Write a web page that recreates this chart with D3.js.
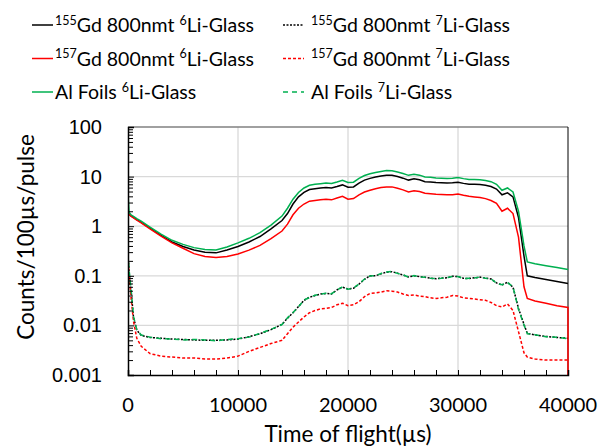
<!DOCTYPE html>
<html>
<head>
<meta charset="utf-8">
<script src="https://cdn.jsdelivr.net/npm/d3@7"></script>
<style>
  body { margin: 0; background: #fff; }
  svg { font-family: Lato, "Open Sans", sans-serif; }
</style>
</head>
<body>
<div class="chart"></div>
<script>
// time of flight (µs), shared by every series; last 40000 is the red drop to the floor
const tof = [0, 100, 300, 500, 800, 1200, 2000, 3000, 4000, 5000, 6000, 7000, 8000, 9000, 10000, 11000, 12000, 13000, 14000,
  14500, 15000, 15500, 16000, 16500, 17000, 17500, 18000, 18500, 19000, 19500, 20000, 20500, 21000, 21500, 22000, 22500,
  23000, 23500, 24000, 24500, 25000, 25500, 26000, 26500, 27000, 27500, 28000, 28500, 29000, 29500, 30000, 30500, 31000,
  31500, 32000, 32500, 33000, 33500, 34000, 34500, 35000, 35500, 36000, 36300, 37000, 38000, 39000, 40000, 40000];

// counts/100µs/pulse
const gd155Li6 = [2.0, 1.75, 1.6, 1.5, 1.35, 1.2, 0.91, 0.65, 0.48, 0.39, 0.33, 0.30, 0.29, 0.33, 0.39, 0.48, 0.62, 0.88, 1.3,
  1.8, 2.8, 3.9, 4.8, 5.5, 5.7, 5.9, 6.0, 5.9, 6.3, 6.8, 6.1, 6.2, 7.4, 8.5, 9.2, 9.8,
  10.3, 10.7, 10.6, 10.0, 9.3, 8.5, 9.0, 8.6, 7.9, 7.8, 7.6, 7.5, 7.4, 7.5, 7.7, 7.3, 7.0,
  7.0, 6.9, 6.7, 6.3, 5.6, 4.3, 4.7, 3.9, 1.5, 0.25, 0.10, 0.092, 0.084, 0.077, 0.070, null];

const gd155Li7 = [0.26, 0.12, 0.045, 0.0145, 0.008, 0.0063, 0.0057, 0.0055, 0.0053, 0.0052, 0.0051, 0.005, 0.005, 0.0051, 0.0053, 0.0059, 0.0068, 0.0082, 0.0105,
  0.014, 0.018, 0.024, 0.032, 0.037, 0.040, 0.043, 0.044, 0.043, 0.052, 0.059, 0.054, 0.056, 0.068, 0.085, 0.10, 0.10,
  0.11, 0.118, 0.121, 0.113, 0.104, 0.095, 0.10, 0.096, 0.093, 0.09, 0.087, 0.09, 0.091, 0.098, 0.096, 0.089, 0.088,
  0.091, 0.094, 0.09, 0.086, 0.072, 0.065, 0.074, 0.059, 0.022, 0.0105, 0.0069, 0.0064, 0.006, 0.0057, 0.0055, null];

const gd157Li6 = [2.0, 1.72, 1.57, 1.47, 1.32, 1.17, 0.88, 0.63, 0.46, 0.36, 0.28, 0.245, 0.235, 0.245, 0.275, 0.33, 0.41, 0.56, 0.8,
  1.1, 1.7, 2.3, 2.8, 3.2, 3.3, 3.4, 3.5, 3.4, 3.7, 4.0, 3.5, 3.6, 4.3, 4.9, 5.3, 5.7,
  6.0, 6.2, 6.2, 5.8, 5.4, 4.9, 5.2, 5.0, 4.6, 4.5, 4.4, 4.35, 4.3, 4.3, 4.45, 4.2, 4.0,
  3.9, 3.8, 3.6, 3.3, 2.9, 2.0, 2.3, 1.8, 0.6, 0.06, 0.035, 0.031, 0.028, 0.025, 0.023, 0.001];

const gd157Li7 = [0.24, 0.1, 0.032, 0.012, 0.0055, 0.0038, 0.0027, 0.0024, 0.0023, 0.0022, 0.0022, 0.0021, 0.0021, 0.0022, 0.0024, 0.003, 0.0036, 0.0043, 0.005,
  0.0068, 0.0092, 0.0117, 0.0148, 0.018, 0.02, 0.0215, 0.022, 0.023, 0.026, 0.028, 0.025, 0.026, 0.03, 0.038, 0.044, 0.045,
  0.047, 0.05, 0.049, 0.047, 0.043, 0.04, 0.041, 0.039, 0.038, 0.036, 0.035, 0.036, 0.037, 0.04, 0.039, 0.036, 0.035,
  0.034, 0.033, 0.032, 0.029, 0.025, 0.0235, 0.027, 0.02, 0.0075, 0.0028, 0.0023, 0.0021, 0.002, 0.002, 0.002, null];

const alLi6 = [4.5, 1.9, 1.68, 1.57, 1.42, 1.26, 0.96, 0.69, 0.52, 0.43, 0.37, 0.34, 0.33, 0.38, 0.46, 0.57, 0.74, 1.05, 1.6,
  2.3, 3.5, 4.8, 5.9, 6.7, 7.0, 7.2, 7.4, 7.3, 7.8, 8.4, 7.6, 7.7, 9.2, 10.5, 11.4, 12.1,
  12.7, 13.2, 13.1, 12.4, 11.5, 10.6, 11.2, 10.7, 9.8, 9.7, 9.4, 9.3, 9.2, 9.3, 9.6, 9.1, 8.7,
  8.7, 8.6, 8.3, 7.9, 7.0, 5.3, 5.9, 4.9, 2.0, 0.4, 0.19, 0.175, 0.16, 0.147, 0.134, null];

const alLi7 = [0.28, 0.13, 0.047, 0.015, 0.0082, 0.0064, 0.0058, 0.0054, 0.0053, 0.0051, 0.0052, 0.0051, 0.0049, 0.0052, 0.0054, 0.0058, 0.0069, 0.0083, 0.0104,
  0.0142, 0.0182, 0.0238, 0.0325, 0.0365, 0.0405, 0.0425, 0.0445, 0.0435, 0.0515, 0.060, 0.0535, 0.0565, 0.0685, 0.086, 0.099, 0.101,
  0.111, 0.119, 0.122, 0.112, 0.105, 0.094, 0.101, 0.095, 0.094, 0.089, 0.088, 0.089, 0.092, 0.097, 0.097, 0.088, 0.089,
  0.090, 0.095, 0.089, 0.087, 0.071, 0.066, 0.073, 0.060, 0.021, 0.0102, 0.0068, 0.0065, 0.0059, 0.0058, 0.0054, null];

const yTicks = [0.001, 0.01, 0.1, 1, 10, 100];
const xTicks = [0, 10000, 20000, 30000, 40000];

const series = [
  { values: gd155Li6, iso: "155", el: "Gd 800nmt ", li: "6", color: "#000000", dash: null },
  { values: gd155Li7, iso: "155", el: "Gd 800nmt ", li: "7", color: "#000000", dash: "2,1.5" },
  { values: gd157Li6, iso: "157", el: "Gd 800nmt ", li: "6", color: "#ff0000", dash: null },
  { values: gd157Li7, iso: "157", el: "Gd 800nmt ", li: "7", color: "#ff0000", dash: "3,2" },
  { values: alLi6, iso: null, el: "Al Foils ", li: "6", color: "#00b050", dash: null },
  { values: alLi7, iso: null, el: "Al Foils ", li: "7", color: "#00b050", dash: "5,4" }
];

const W = 598, H = 447;
const margin = { top: 127, right: 30, bottom: 72, left: 128 };
const width = W - margin.left - margin.right,
  height = H - margin.top - margin.bottom;

const svg = d3.select(".chart").append("svg")
  .attr("width", W)
  .attr("height", H);

const x = d3.scaleLinear().domain([0, 40000]).range([0, width]);
const y = d3.scaleLog().domain([0.001, 100]).range([height, 0]);

const g = svg.append("g")
  .attr("transform", "translate(" + margin.left + "," + margin.top + ")");

// gridlines
g.append("g").selectAll("line").data(yTicks.slice(1, -1)).enter().append("line")
  .attr("x1", 0).attr("x2", width)
  .attr("y1", d => y(d)).attr("y2", d => y(d))
  .attr("stroke", "#d9d9d9").attr("stroke-width", 1.3);
g.append("g").selectAll("line").data(xTicks.slice(1, -1)).enter().append("line")
  .attr("y1", 0).attr("y2", height)
  .attr("x1", d => x(d)).attr("x2", d => x(d))
  .attr("stroke", "#d9d9d9").attr("stroke-width", 1.3);

// top and right border
g.append("line").attr("x1", 0).attr("x2", width).attr("y1", 0).attr("y2", 0)
  .attr("stroke", "#808080").attr("stroke-width", 1.5);
g.append("line").attr("x1", width).attr("x2", width).attr("y1", 0).attr("y2", height)
  .attr("stroke", "#000").attr("stroke-width", 1);

// series
g.append("clipPath").attr("id", "plot").append("rect")
  .attr("x", 0).attr("y", -1).attr("width", width + 1).attr("height", height + 1);

const line = d3.line()
  .defined(d => d[1] != null)
  .x(d => x(d[0]))
  .y(d => y(d[1]));

g.append("g").attr("clip-path", "url(#plot)")
  .selectAll("path").data(series).enter().append("path")
  .attr("d", s => line(tof.map((t, i) => [t, s.values[i]])))
  .attr("fill", "none")
  .attr("stroke", s => s.color)
  .attr("stroke-width", 1.5)
  .attr("stroke-dasharray", s => s.dash);

// y axis: decades labelled, minor ticks inside
const minorY = [];
yTicks.slice(0, -1).forEach(d => { for (let k = 2; k <= 9; k++) minorY.push(d * k); });

const yAxis = g.append("g")
  .call(d3.axisLeft(y).tickValues(yTicks).tickSize(-6).tickPadding(26)
    .tickFormat(d => d >= 1 ? d3.format("d")(d) : String(d)));
yAxis.select(".domain").attr("stroke", "#000").attr("stroke-width", 1.5);
yAxis.selectAll(".tick line").attr("stroke", "#000");
yAxis.selectAll("text").attr("font-size", 20).attr("fill", "#000");

g.append("g")
  .call(d3.axisLeft(y).tickValues(minorY).tickSize(-5).tickFormat(""))
  .call(a => a.select(".domain").remove())
  .selectAll(".tick line").attr("stroke", "#000");

// x axis
const xAxis = g.append("g")
  .attr("transform", "translate(0," + height + ")")
  .call(d3.axisBottom(x).tickValues(d3.range(0, 40001, 2000)).tickSize(-5).tickFormat(""));
xAxis.select(".domain").attr("stroke", "#000").attr("stroke-width", 1.5);
xAxis.selectAll(".tick line").attr("stroke", "#000");

g.append("g").selectAll("text").data(xTicks).enter().append("text")
  .attr("x", d => x(d))
  .attr("y", height + 37)
  .attr("text-anchor", "middle")
  .attr("font-size", 20)
  .text(d => d);

// axis titles
svg.append("text")
  .attr("x", 348).attr("y", 442)
  .attr("text-anchor", "middle")
  .attr("font-size", 22.5)
  .text("Time of flight(µs)");

svg.append("text")
  .attr("transform", "translate(34,237) rotate(-90)")
  .attr("text-anchor", "middle")
  .attr("font-size", 22.5)
  .text("Counts/100µs/pulse");

// legend, two columns
const legend = svg.append("g").selectAll("g").data(series).enter().append("g")
  .attr("transform", (d, i) => "translate(" + (i % 2 ? 283 : 32) + "," + (25 + Math.floor(i / 2) * 33.5) + ")");

legend.append("line")
  .attr("x1", 0).attr("x2", 21).attr("y1", 0).attr("y2", 0)
  .attr("stroke", d => d.color).attr("stroke-width", 1.5)
  .attr("stroke-dasharray", d => d.dash);

const lt = legend.append("text")
  .attr("x", (d, i) => i % 2 ? 28 : 23)
  .attr("y", 7)
  .attr("font-size", 19.5);

lt.each(function (d) {
  const t = d3.select(this);
  if (d.iso) {
    t.append("tspan").attr("font-size", 12.5).attr("dy", -7.5).text(d.iso);
    t.append("tspan").attr("dy", 7.5).text(d.el);
  } else {
    t.append("tspan").text(d.el);
  }
  t.append("tspan").attr("font-size", 12.5).attr("dy", -7.5).text(d.li);
  t.append("tspan").attr("dy", 7.5).text("Li-Glass");
});
</script>
</body>
</html>
